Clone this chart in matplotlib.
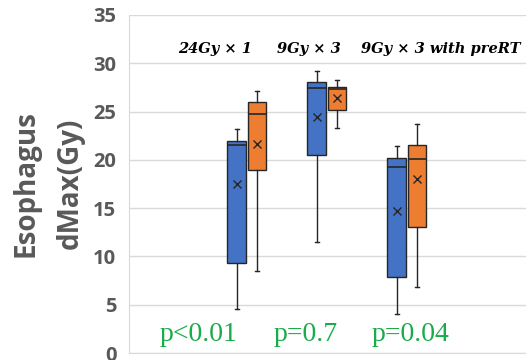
import matplotlib.pyplot as plt

groups = ["24Gy × 1", "9Gy × 3", "9Gy × 3 with preRT"]
p_values = ["p<0.01", "p=0.7", "p=0.04"]

blue_whislo = [4.6, 11.5, 4.0]
blue_q1 = [9.3, 20.5, 7.9]
blue_med = [21.5, 27.4, 19.3]
blue_q3 = [22.0, 28.1, 20.2]
blue_whishi = [23.2, 29.2, 21.4]
blue_mean = [17.5, 24.4, 14.7]

orange_whislo = [8.5, 23.3, 6.8]
orange_q1 = [18.9, 25.2, 13.0]
orange_med = [24.7, 27.3, 20.1]
orange_q3 = [26.0, 27.5, 21.5]
orange_whishi = [27.1, 28.3, 23.7]
orange_mean = [21.6, 26.4, 18.0]

yticks = [0, 5, 10, 15, 20, 25, 30, 35]


def make_stats(lo, q1, med, q3, hi, mean):
    return [dict(whislo=a, q1=b, med=c, q3=d, whishi=e, mean=f, fliers=[])
            for a, b, c, d, e, f in zip(lo, q1, med, q3, hi, mean)]


fig = plt.figure(figsize=(5.26, 3.6), dpi=100)
ax = fig.add_axes([0.245, 0.0194, 0.755, 0.939])

pos = range(1, len(groups) + 1)
series = [
    (make_stats(blue_whislo, blue_q1, blue_med, blue_q3, blue_whishi, blue_mean), "#4472c4", -0.128),
    (make_stats(orange_whislo, orange_q1, orange_med, orange_q3, orange_whishi, orange_mean), "#ed7d31", 0.128),
]
for stats, color, off in series:
    ax.bxp(stats, positions=[p + off for p in pos], widths=0.235,
           patch_artist=True, showmeans=True, capwidths=0.05,
           boxprops=dict(facecolor=color, edgecolor="#262626", linewidth=1.0),
           medianprops=dict(color="#262626", linewidth=1.2),
           whiskerprops=dict(color="#262626", linewidth=1.0),
           capprops=dict(color="#262626", linewidth=1.0),
           meanprops=dict(marker="x", markeredgecolor="#262626",
                          markersize=6, markeredgewidth=1.0))

ax.set_xlim(-0.475, 4.49)
ax.set_ylim(0, 35)
ax.set_yticks(yticks)
ax.set_xticks([])
ax.yaxis.grid(True, color="#d9d9d9", linewidth=1.0)
ax.set_axisbelow(True)
for s in ["top", "right"]:
    ax.spines[s].set_visible(False)
ax.spines["left"].set_color("#d9d9d9")
ax.spines["bottom"].set_color("#d9d9d9")
ax.tick_params(axis="y", length=0, pad=9, labelsize=14.5, labelcolor="#595959")
for lab in ax.get_yticklabels():
    lab.set_fontfamily("Open Sans")
    lab.set_fontweight("bold")

# y label placed in figure coords (two lines, centered)
fig.text(0.092, 0.49, "Esophagus\ndMax(Gy)", rotation=90, ha="center", va="center",
         fontsize=20, fontweight="bold", color="#595959", family="Open Sans",
         linespacing=1.7, multialignment="center")

# group titles at the top
title_x = [0.6, 1.78, 3.42]
for x, g in zip(title_x, groups):
    ax.text(x, 31.5, g, ha="center", va="center", fontsize=10.5,
            family="DejaVu Serif", style="italic", fontweight="bold", color="black")

# p-values near the bottom
p_x = [0.4, 1.73, 3.04]
for x, p in zip(p_x, p_values):
    ax.text(x, 1.9, p, ha="center", va="center", fontsize=20,
            family="Liberation Serif", color="#1aab4a")

fig.savefig("out.png", dpi=100)
